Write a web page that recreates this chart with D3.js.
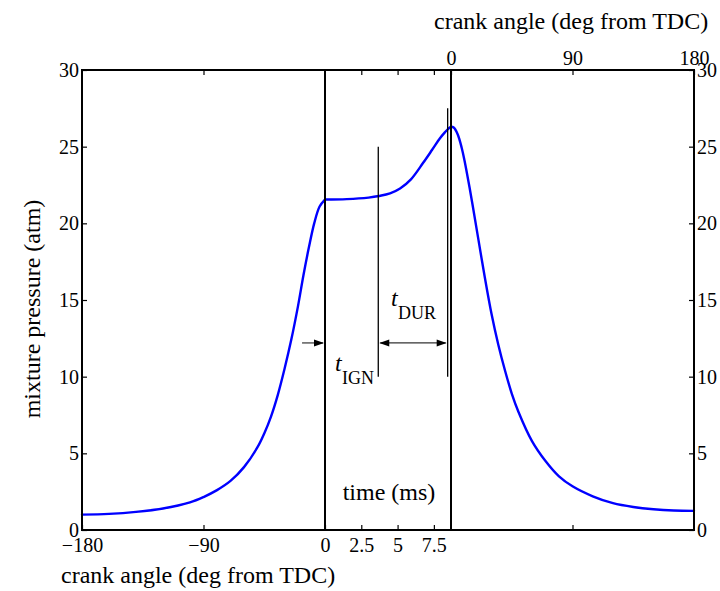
<!DOCTYPE html>
<html>
<head>
<meta charset="utf-8">
<script src="https://cdn.jsdelivr.net/npm/d3@7"></script>
<style>
  html, body { margin: 0; padding: 0; background: #fff; }
  svg text { font-family: "Liberation Serif", "Times New Roman", serif; fill: #000; }
</style>
</head>
<body>
<svg id="chart" width="720" height="591"></svg>
<script>
// ---------- data ----------
// compression stroke: crank angle (deg from TDC) vs pressure (atm)
const compAngle = [-180, -160, -140, -120, -100, -90, -80, -70, -60, -50, -45, -40, -35, -30, -25, -20, -16, -12, -8, -4, 0];
const compPress = [1.0, 1.05, 1.18, 1.4, 1.8, 2.15, 2.6, 3.2, 4.1, 5.4, 6.3, 7.4, 8.8, 10.5, 12.4, 14.6, 16.6, 18.4, 20.0, 21.1, 21.55];
// constant-volume period: time (ms) vs pressure (atm)
const timeMs = [0, 1.5, 3, 3.72, 4.48, 5.17, 5.92, 6.75, 7.37, 7.92, 8.27, 8.47, 8.68];
const timePress = [21.55, 21.58, 21.68, 21.78, 21.95, 22.27, 22.87, 23.93, 24.78, 25.55, 25.95, 26.15, 26.3];
// expansion stroke: crank angle (deg from TDC) vs pressure (atm)
const expAngle = [0, 2, 5, 8, 10, 13, 16, 20, 25, 30, 35, 40, 45, 50, 60, 70, 80, 90, 105, 120, 135, 150, 165, 180];
const expPress = [26.3, 26.25, 25.8, 24.9, 24.1, 22.7, 21.2, 19.1, 16.5, 14.1, 12.1, 10.4, 8.9, 7.7, 5.8, 4.5, 3.5, 2.85, 2.2, 1.75, 1.5, 1.35, 1.27, 1.25];

const tEnd = 8.68;                         // end of the time segment (ms)
const yTicks = [0, 5, 10, 15, 20, 25, 30];
const bottomCrankTicks = [-180, -90, 0];
const timeTicks = [2.5, 5, 7.5];
const topCrankTicks = [0, 90, 180];

// annotations
const ignTime = 3.67, durTime = 8.45;
const ignLineP = [10, 25], durLineP = [10, 27.5];
const arrowP = 12.2, arrowStartAngle = -17;

// ---------- layout ----------
const L = 82, R = 694, T = 70, B = 530;
const segL = 243, segT = 126;
const svg = d3.select("#chart");

const y = d3.scaleLinear().domain([0, 30]).range([B, T]);
const xL = d3.scaleLinear().domain([-180, 0]).range([L, L + segL]);
const xT = d3.scaleLinear().domain([0, tEnd]).range([L + segL, L + segL + segT]);
const xR = d3.scaleLinear().domain([0, 180]).range([L + segL + segT, R]);

const font = "Liberation Serif";

// ---------- curve ----------
const line = d3.line().x(d => d[0]).y(d => d[1]).curve(d3.curveCatmullRom.alpha(0.5));
const segs = [
  compAngle.map((a, i) => [xL(a), y(compPress[i])]),
  timeMs.map((t, i) => [xT(t), y(timePress[i])]),
  expAngle.map((a, i) => [xR(a), y(expPress[i])])
];
segs.forEach(s => svg.append("path").attr("d", line(s))
  .attr("fill", "none").attr("stroke", "#0000ff").attr("stroke-width", 2.4)
  .attr("stroke-linejoin", "round").attr("stroke-linecap", "round"));

// ---------- axes ----------
function styleAxis(g, size) {
  g.select(".domain").remove();
  g.selectAll(".tick line").attr("stroke", "#000").attr("stroke-width", 1.2);
  g.selectAll("text").attr("font-family", font).attr("font-size", size).attr("fill", "#000");
}
svg.append("g").attr("transform", `translate(${L},0)`)
  .call(d3.axisLeft(y).tickValues(yTicks).tickSize(-5).tickPadding(3))
  .call(g => styleAxis(g, 20));
svg.append("g").attr("transform", `translate(${R},0)`)
  .call(d3.axisRight(y).tickValues(yTicks).tickSize(-5).tickPadding(3))
  .call(g => styleAxis(g, 20));

// bottom
svg.append("g").attr("transform", `translate(0,${B})`)
  .call(d3.axisBottom(xL).tickValues(bottomCrankTicks).tickSize(-5).tickPadding(8))
  .call(g => styleAxis(g, 20));
svg.append("g").attr("transform", `translate(0,${B})`)
  .call(d3.axisBottom(xT).tickValues(timeTicks).tickSize(-5).tickPadding(8).tickFormat(d3.format("")))
  .call(g => styleAxis(g, 20));
svg.append("g").attr("transform", `translate(0,${B})`)
  .call(d3.axisBottom(xR).tickValues([90]).tickSize(-5).tickFormat(""))
  .call(g => styleAxis(g, 20));
// top
svg.append("g").attr("transform", `translate(0,${T})`)
  .call(d3.axisTop(xL).tickValues([-90]).tickSize(-5).tickFormat(""))
  .call(g => styleAxis(g, 20));
svg.append("g").attr("transform", `translate(0,${T})`)
  .call(d3.axisTop(xT).tickValues(timeTicks).tickSize(-5).tickFormat(""))
  .call(g => styleAxis(g, 20));
svg.append("g").attr("transform", `translate(0,${T})`)
  .call(d3.axisTop(xR).tickValues(topCrankTicks).tickSize(-5).tickPadding(5))
  .call(g => styleAxis(g, 20));

// frame
svg.append("rect").attr("x", L).attr("y", T).attr("width", R - L).attr("height", B - T)
  .attr("fill", "none").attr("stroke", "#000").attr("stroke-width", 2);

// segment separators
[xL(0), xR(0)].forEach(px => svg.append("line")
  .attr("x1", px).attr("x2", px).attr("y1", T).attr("y2", B)
  .attr("stroke", "#000").attr("stroke-width", 2));

// ignition / duration markers
svg.append("line").attr("x1", xT(ignTime)).attr("x2", xT(ignTime))
  .attr("y1", y(ignLineP[0])).attr("y2", y(ignLineP[1])).attr("stroke", "#000").attr("stroke-width", 1.3);
svg.append("line").attr("x1", xT(durTime)).attr("x2", xT(durTime))
  .attr("y1", y(durLineP[0])).attr("y2", y(durLineP[1])).attr("stroke", "#000").attr("stroke-width", 1.3);

// arrows
const ay = y(arrowP);
function head(tipX, dir) {
  const len = 10, hw = 3.5;
  svg.append("path")
    .attr("d", `M${tipX},${ay} L${tipX - dir * len},${ay - hw} L${tipX - dir * len},${ay + hw} Z`)
    .attr("fill", "#000");
}
svg.append("line").attr("x1", xL(arrowStartAngle)).attr("x2", xL(0) - 2)
  .attr("y1", ay).attr("y2", ay).attr("stroke", "#333").attr("stroke-width", 1.2);
head(xL(0) - 1, 1);
svg.append("line").attr("x1", xT(ignTime) + 2).attr("x2", xT(durTime) - 2)
  .attr("y1", ay).attr("y2", ay).attr("stroke", "#333").attr("stroke-width", 1.2);
head(xT(ignTime) + 1, -1);
head(xT(durTime) - 1, 1);

// labels t_IGN, t_DUR
function subLabel(x0, yBase, sub) {
  const g = svg.append("g");
  g.append("text").attr("x", x0).attr("y", yBase).attr("font-size", 24)
    .attr("font-style", "italic").text("t");
  g.append("text").attr("x", x0 + 7).attr("y", yBase + 13).attr("font-size", 18).text(sub);
}
subLabel(335, 371, "IGN");
subLabel(391, 306, "DUR");

// axis titles
svg.append("text").attr("x", 389).attr("y", 500).attr("text-anchor", "middle")
  .attr("font-size", 24).text("time (ms)");
svg.append("text").attr("x", 61).attr("y", 583).attr("font-size", 24)
  .text("crank angle (deg from TDC)");
svg.append("text").attr("x", 434).attr("y", 29).attr("font-size", 24)
  .text("crank angle (deg from TDC)");
svg.append("text").attr("transform", "translate(40,309) rotate(-90)")
  .attr("text-anchor", "middle").attr("font-size", 24).text("mixture pressure (atm)");
</script>
</body>
</html>
